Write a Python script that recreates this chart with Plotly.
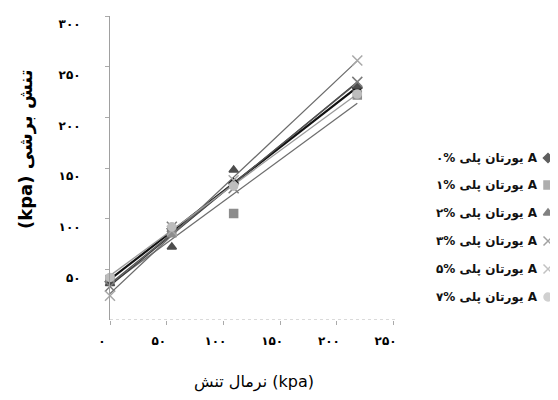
import numpy as np
import plotly.graph_objects as go

# ---- data ----
normal_stress = [0, 54.5, 109, 218]
series_names = ["۰", "۱", "۲", "۳", "۵", "۷"]
shear_0 = [38, 90, 135, 229]
shear_1 = [40, 86, 105, 222]
shear_2 = [36, 72, 148, 231]
shear_3 = [33, 92, 130, 235]
shear_5 = [24, 88, 138, 256]
shear_7 = [42, 92, 132, 223]
x_ticks = [0, 50, 100, 150, 200, 250]
x_ticklabels = ["۰", "۵۰", "۱۰۰", "۱۵۰", "۲۰۰", "۲۵۰"]
y_ticks = [50, 100, 150, 200, 250, 300]
y_ticklabels = ["۵۰", "۱۰۰", "۱۵۰", "۲۰۰", "۲۵۰", "۳۰۰"]

all_series = [shear_0, shear_1, shear_2, shear_3, shear_5, shear_7]
symbols = ["diamond", "square", "triangle-up", "x-thin-open", "x-thin-open", "circle"]
mcolors = ["#1a1a1a", "#8c8c8c", "#4d4d4d", "#7a7a7a", "#a8a8a8", "#bdbdbd"]
msizes = [7, 8, 8, 10, 10, 8]
lcolors = ["#111111", "#6e6e6e", "#3a3a3a", "#555555", "#6a6a6a", "#9a9a9a"]
lwidths = [2.2, 1.3, 1.3, 1.3, 1.3, 1.3]

# page body adds an 8px offset; the figure is sized to fill the rest of the window
OFF = 8
W, H = 558 - OFF, 400 - OFF
px_left, px_right, px_top, px_bottom = 110 - OFF, 397 - OFF, 16 - OFF, 320 - OFF

fig = go.Figure()
xs = np.array(normal_stress, dtype=float)
for i, ys in enumerate(all_series):
    ys = np.array(ys, dtype=float)
    slope, icpt = np.polyfit(xs, ys, 1)
    xl = np.array([xs.min(), xs.max()])
    fig.add_trace(go.Scatter(x=xl, y=slope * xl + icpt, mode="lines",
                             line=dict(color=lcolors[i], width=lwidths[i]),
                             showlegend=False, hoverinfo="skip"))
for i, ys in enumerate(all_series):
    fig.add_trace(go.Scatter(x=normal_stress, y=ys, mode="markers",
                             marker=dict(symbol=symbols[i], color=mcolors[i], size=msizes[i],
                                         line=dict(color=mcolors[i], width=1.5)),
                             showlegend=False, cliponaxis=False))

# custom right-to-left legend (marker at right end of each row)
leg_rows_y = [y - OFF for y in [158, 185, 213, 241, 269, 297]]
leg_marker_x = 548 - OFF
fig.add_trace(go.Scatter(x=[leg_marker_x] * len(series_names), y=leg_rows_y, mode="markers",
                         marker=dict(symbol=symbols, color=mcolors, size=[7, 8, 8, 9, 9, 8],
                                     line=dict(color=mcolors, width=1.5)),
                         xaxis="x2", yaxis="y2", showlegend=False, hoverinfo="skip",
                         cliponaxis=False))

LRM = "\u200e"
annotations = []
for name, yy in zip(series_names, leg_rows_y):
    txt = "<b>" + name + "%" + LRM + " پلی" + LRM + " یورتان" + LRM + " A</b>"
    annotations.append(dict(x=540 - OFF, y=yy, xref="x2", yref="y2", text=txt, showarrow=False,
                            xanchor="right", yanchor="middle",
                            font=dict(family="DejaVu Sans", size=12, color="#111")))

# axis titles
annotations.append(dict(x=(px_left + px_right) / 2, y=382 - OFF, xref="x2", yref="y2",
                        text="تنش" + LRM + " نرمال" + LRM + " (kpa)", showarrow=False,
                        xanchor="center", yanchor="middle",
                        font=dict(family="DejaVu Sans", size=16, color="#000")))
annotations.append(dict(x=26 - OFF, y=150 - OFF, xref="x2", yref="y2",
                        text="<b>(kpa)" + LRM + " برشی" + LRM + " تنش</b>", showarrow=False,
                        textangle=-90, xanchor="center", yanchor="middle",
                        font=dict(family="DejaVu Sans", size=18, color="#000")))

fig.update_layout(
    width=W, height=H,
    margin=dict(l=0, r=0, t=0, b=0, autoexpand=False),
    paper_bgcolor="white", plot_bgcolor="rgba(0,0,0,0)",
    showlegend=False,
    xaxis=dict(domain=[px_left / W, px_right / W], range=[0, 253], anchor="y",
               tickvals=x_ticks, ticktext=x_ticklabels, ticks="outside", ticklen=4,
               tickcolor="#aaaaaa", showline=False, showgrid=False, zeroline=False,
               ticklabelstandoff=6, ticklabelshift=-8, automargin=False,
               ticklabeloverflow="allow",
               tickfont=dict(family="DejaVu Sans", size=12, color="#000", weight="bold")),
    yaxis=dict(domain=[1 - px_bottom / H, 1 - px_top / H], range=[0, 300], anchor="x",
               tickvals=y_ticks, ticktext=y_ticklabels, ticks="outside", ticklen=4,
               tickcolor="#aaaaaa", showline=True, linecolor="#a0a0a0", linewidth=1,
               showgrid=False, zeroline=False, ticklabelstandoff=22, ticklabelshift=8,
               automargin=False, ticklabeloverflow="allow",
               tickfont=dict(family="DejaVu Sans", size=12, color="#000", weight="bold")),
    xaxis2=dict(domain=[0, 1], range=[0, W], anchor="y2", visible=False, fixedrange=True,
                automargin=False),
    yaxis2=dict(domain=[0, 1], range=[H, 0], anchor="x2", visible=False, fixedrange=True,
                automargin=False),
    shapes=[dict(type="line", xref="x domain", yref="y", x0=0, x1=1, y0=0, y1=0,
                 line=dict(color="#b5b5b5", width=1.2, dash="dot"))],
    annotations=annotations,
)

fig.write_html("out.html")
